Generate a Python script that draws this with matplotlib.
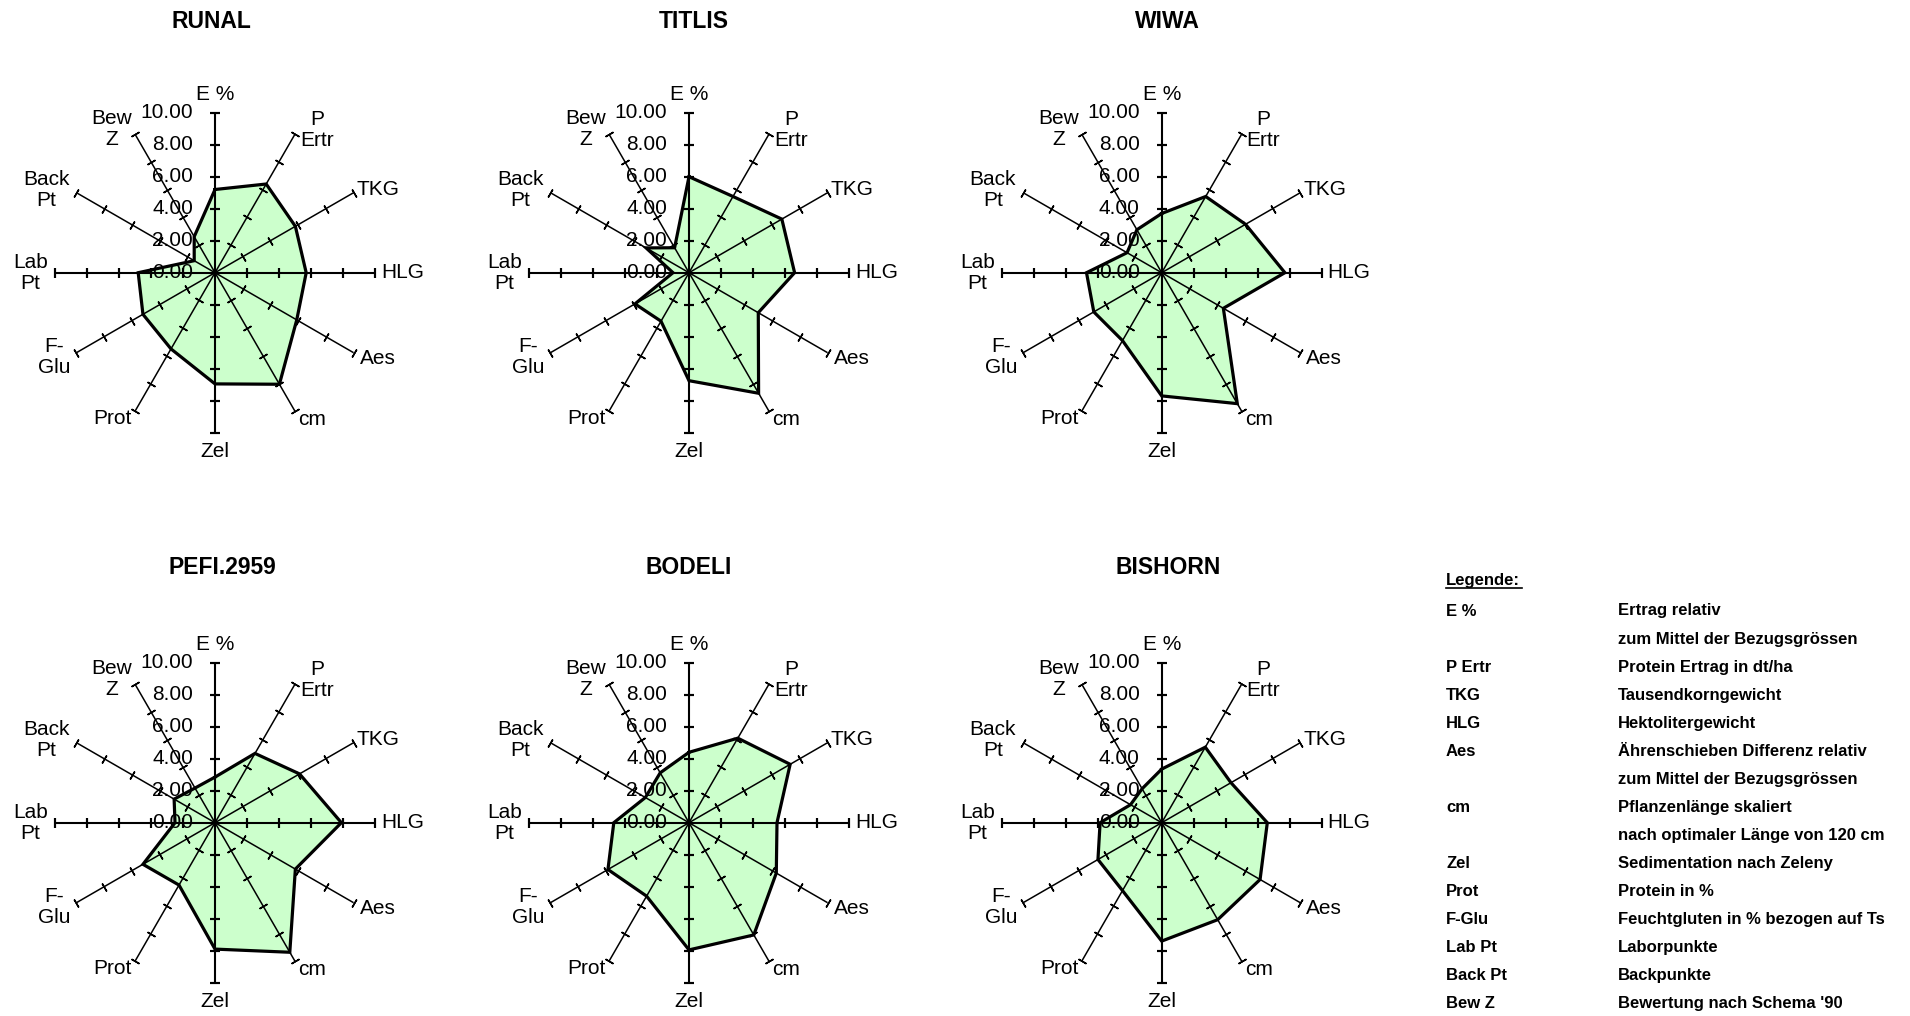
import numpy as np
import matplotlib
matplotlib.use("Agg")
import matplotlib.pyplot as plt
from matplotlib.lines import Line2D

# ---------- DATA ------------
axis_labels = ["E %", "P\nErtr", "TKG", "HLG", "Aes", "cm", "Zel", "Prot",
               "F-\nGlu", "Lab\nPt", "Back\nPt", "Bew\nZ"]
varieties = ["RUNAL", "TITLIS", "WIWA", "PEFI.2959", "BODELI", "BISHORN"]

runal = [5.2, 6.4, 5.8, 5.7, 5.9, 8.05, 6.95, 5.5, 5.2, 4.8, 1.5, 2.6]
titlis = [6.0, 5.5, 6.7, 6.6, 5.0, 8.7, 6.75, 3.5, 3.9, 1.0, 3.1, 1.8]
wiwa = [3.7, 5.5, 6.05, 7.7, 4.45, 9.45, 7.7, 4.9, 4.9, 4.7, 2.5, 3.1]
pefi = [2.85, 5.0, 6.1, 7.9, 5.8, 9.35, 7.9, 4.5, 5.2, 2.5, 2.95, 2.5]
bodeli = [4.4, 6.1, 7.3, 5.5, 6.3, 8.1, 7.95, 5.3, 5.85, 4.7, 3.15, 3.6]
bishorn = [3.35, 5.45, 5.0, 6.6, 7.1, 7.0, 7.4, 4.9, 4.6, 3.85, 2.25, 2.45]
series = [runal, titlis, wiwa, pefi, bodeli, bishorn]

ticks = [0, 2, 4, 6, 8, 10]

legend_keys = ["E %", "", "P Ertr", "TKG", "HLG", "Aes", "", "cm", "", "Zel",
               "Prot", "F-Glu", "Lab Pt", "Back Pt", "Bew Z"]
legend_desc = ["Ertrag relativ", "zum Mittel der Bezugsgrössen",
               "Protein Ertrag in dt/ha", "Tausendkorngewicht",
               "Hektolitergewicht", "Ährenschieben Differenz relativ",
               "zum Mittel der Bezugsgrössen", "Pflanzenlänge skaliert",
               "nach optimaler Länge von 120 cm", "Sedimentation nach Zeleny",
               "Protein in %", "Feuchtgluten in % bezogen auf Ts",
               "Laborpunkte", "Backpunkte", "Bewertung nach Schema '90"]

# ---------- CONFIG ------------
W, H = 1910, 1016
R = 160  # radius in px
centers = [(215, 272.7), (689, 272.7), (1161.7, 272.7),
           (215, 822.7), (689, 822.7), (1161.7, 822.7)]
title_pos = [(211, 21), (694, 21), (1167, 21), (222, 568), (689, 568), (1168, 568)]
fill_col = "#CCFFCC"
fs = 15
fs_leg = 12

# label placement: (dx, dy) offset in px from axis end, ha
label_place = [((0, 18), "center"), ((5, 4), "left"), ((3, 3), "left"),
               ((6, 0), "left"), ((6, -6), "left"), ((3, -8), "left"),
               ((0, -19), "center"), ((-3, -7), "right"), ((-6, -4), "right"),
               ((-7, 0), "right"), ((-7, 3), "right"), ((-3, 5), "right")]

plt.rcParams['font.family'] = ['Liberation Sans', 'DejaVu Sans']

fig = plt.figure(figsize=(W / 100, H / 100), dpi=100)

n = len(axis_labels)
theta = np.deg2rad(np.arange(n) * 360.0 / n)

for k, vals in enumerate(series):
    cx, cy = centers[k]
    ax = fig.add_axes([(cx - R) / W, (H - cy - R) / H, 2 * R / W, 2 * R / H],
                      projection='polar')
    ax.set_theta_zero_location('N')
    ax.set_theta_direction(-1)
    ax.axis('off')

    th = np.append(theta, theta[0])
    v = np.append(vals, vals[0])
    ax.fill(th, v, color=fill_col, zorder=1, clip_on=False, lw=0)

    # value labels on the vertical axis
    for t in ticks:
        ax.annotate("%.2f" % t, xy=(0, t), xytext=(-22, 0), textcoords='offset pixels',
                    ha='right', va='center', fontsize=fs, zorder=2,
                    annotation_clip=False)

    for i in range(n):
        phi = i * 360.0 / n
        lw = 1.5 if phi % 90 == 0 else 1.1
        ax.plot([theta[i], theta[i]], [0, 10], color='black', lw=lw,
                clip_on=False, zorder=3, solid_capstyle='butt')
        ax.plot([theta[i]] * 5, ticks[1:], linestyle='none',
                marker=(2, 2, 90 - phi), markersize=6.5, mew=lw,
                color='black', clip_on=False, zorder=3)
        (dx, dy), ha = label_place[i]
        ax.annotate(axis_labels[i], xy=(theta[i], 10), xytext=(dx, dy),
                    textcoords='offset pixels', ha=ha, va='center',
                    multialignment='center', fontsize=fs,
                    annotation_clip=False, linespacing=1.15)

    ax.plot(th, v, color='black', lw=2.3, clip_on=False, zorder=4,
            solid_joinstyle='miter')
    ax.set_ylim(0, 10)

    tx, ty = title_pos[k]
    fig.text(tx / W, 1 - ty / H, varieties[k], ha='center', va='center',
             fontsize=16.5, fontweight='bold')

# ---------- legend ------------
lx1, lx2 = 1446, 1618
fig.text(lx1 / W, 1 - 580 / H, "Legende:", ha='left', va='center',
         fontsize=fs_leg, fontweight='bold')
fig.add_artist(Line2D([lx1 / W, 1522 / W], [1 - 588 / H, 1 - 588 / H],
                      color='black', lw=1.2))
for j, (key, desc) in enumerate(zip(legend_keys, legend_desc)):
    y = 611 + j * 28.07
    if key:
        fig.text(lx1 / W, 1 - y / H, key, ha='left', va='center',
                 fontsize=fs_leg, fontweight='bold')
    fig.text(lx2 / W, 1 - y / H, desc, ha='left', va='center',
             fontsize=fs_leg, fontweight='bold')

fig.savefig("out.png", dpi=100)
